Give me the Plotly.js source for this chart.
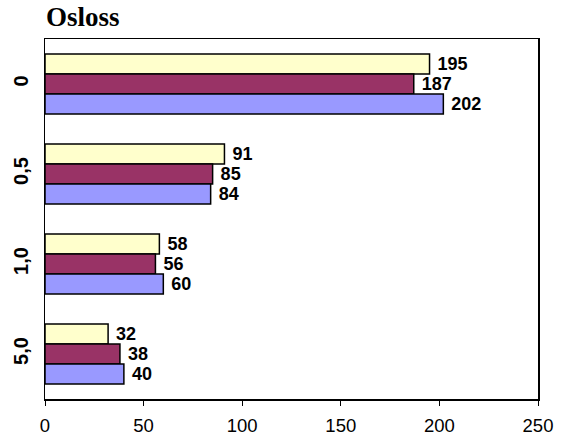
<!DOCTYPE html>
<html>
<head>
<meta charset="utf-8">
<script src="https://cdn.plot.ly/plotly-3.0.1.min.js"></script>
<style>html,body{margin:0;padding:0;background:#fff;}#chart{width:563px;height:443px;}</style>
</head>
<body>
<div id="chart"></div>
<script>
const categories = ["0", "0,5", "1,0", "5,0"];
const seriesA = [195, 91, 58, 32];
const seriesB = [187, 85, 56, 38];
const seriesC = [202, 84, 60, 40];
const xTicks = [0, 50, 100, 150, 200, 250];

const colors = ["#FFFFCC", "#993366", "#9999FF"];
const allSeries = [seriesA, seriesB, seriesC];

const traces = allSeries.map((vals, i) => ({
  type: "bar",
  orientation: "h",
  y: categories,
  x: vals,
  text: vals.map(String),
  texttemplate: " %{text}",
  textposition: "outside",
  constraintext: "none",
  cliponaxis: false,
  textfont: {family: "Arial, Liberation Sans, sans-serif", size: 18, color: "#000", weight: "bold"},
  marker: {color: colors[i], line: {color: "#000", width: 1.5}},
  hoverinfo: "none",
  showlegend: false
}));

const layout = {
  width: 563, height: 443,
  margin: {l: 45, r: 25, t: 39, b: 44},
  paper_bgcolor: "#fff", plot_bgcolor: "#fff",
  barmode: "group",
  bargap: 0.333,
  bargroupgap: 0,
  title: {text: "<b>Osloss</b>", x: 46/563, xanchor: "left", y: 1 - 17/443, yanchor: "middle",
          font: {family: "Times New Roman, Liberation Serif, serif", size: 27, color: "#000"}},
  xaxis: {
    range: [0, 250], tickvals: xTicks, ticktext: xTicks.map(String),
    showgrid: false, zeroline: false,
    showline: true, linecolor: "#000", linewidth: 1.5, mirror: true,
    ticks: "outside", ticklen: 5, tickcolor: "#000",
    ticklabelstandoff: 4,
    tickfont: {family: "Arial, Liberation Sans, sans-serif", size: 18.5, color: "#000"}
  },
  yaxis: {
    type: "category", categoryorder: "array", categoryarray: categories,
    autorange: "reversed",
    showgrid: false, zeroline: false,
    showline: true, linecolor: "#000", linewidth: 1.5, mirror: true,
    ticks: "", tickangle: -90,
    ticklabelstandoff: 8,
    tickfont: {family: "Arial, Liberation Sans, sans-serif", size: 20, color: "#000", weight: "bold"}
  }
};

Plotly.newPlot("chart", traces, layout, {displayModeBar: false, staticPlot: true});
</script>
</body>
</html>
